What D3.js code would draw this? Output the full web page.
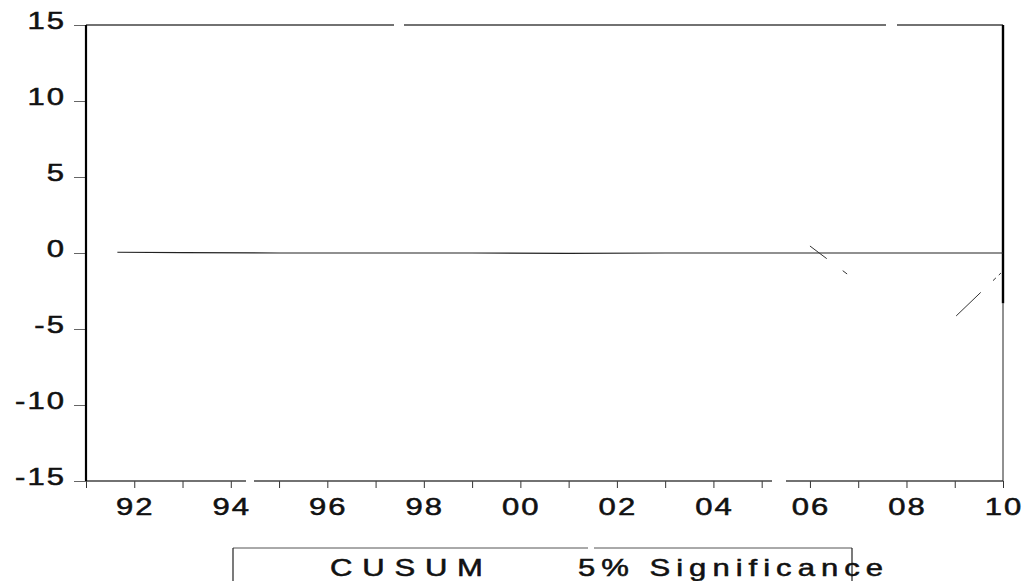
<!DOCTYPE html>
<html>
<head>
<meta charset="utf-8">
<script src="https://cdn.jsdelivr.net/npm/d3@7"></script>
<style>
  body { margin: 0; background: #fff; }
  text { font-family: "Liberation Sans", Arial, sans-serif; fill: #111; stroke: #111; stroke-width: 0.5px; }
</style>
</head>
<body>
<div id="chart"></div>
<script>
// values
var cusumYears  = [1991.65, 1993, 1995, 1997, 1999, 2001, 2003, 2005, 2007, 2009, 2010];
var cusumValues = [0.05,    0.03, 0.0,  0.0,  0.0, -0.02, 0.0,  0.0,  0.0,  0.0,  0.0];

// faint broken pieces of the lower line (what survived the scan)
var dropYearsA  = [2006.0, 2006.77];
var dropValuesA = [0.46, -1.38];
var dropYearsB  = [2009.03, 2009.96];
var dropValuesB = [-4.14, -1.31];

var yTicks      = [15, 10, 5, 0, -5, -10, -15];
var xMinorTicks = [1991, 1992, 1993, 1994, 1995, 1996, 1997, 1998, 1999, 2000,
                   2001, 2002, 2003, 2004, 2005, 2006, 2007, 2008, 2009, 2010];
var xLabelYears = [1992, 1994, 1996, 1998, 2000, 2002, 2004, 2006, 2008, 2010];
var xLabels     = ["92", "94", "96", "98", "00", "02", "04", "06", "08", "10"];
var legendItems = ["CUSUM", "5% Significance"];

var width = 1029, height = 581;
var plotLeft = 86, plotRight = 1003, plotTop = 25, plotBottom = 481;

var svg = d3.select("#chart").append("svg")
    .attr("width", width)
    .attr("height", height);

var x = d3.scaleLinear().domain([1991, 2010]).range([plotLeft, plotRight]);
var y = d3.scaleLinear().domain([-15, 15]).range([plotBottom, plotTop]);

// y ticks (outward, to the left)
var yAxis = svg.append("g")
    .attr("transform", "translate(" + plotLeft + ",0)")
    .call(d3.axisLeft(y).tickValues(yTicks).tickSize(12).tickFormat(""));
yAxis.select(".domain").remove();
yAxis.selectAll("line").attr("stroke", "#666").attr("stroke-width", 1);

// x ticks every year (downward)
var xAxis = svg.append("g")
    .attr("transform", "translate(0," + plotBottom + ")")
    .call(d3.axisBottom(x).tickValues(xMinorTicks).tickSize(7).tickFormat(""));
xAxis.select(".domain").remove();
xAxis.selectAll("line").attr("stroke", "#333").attr("stroke-width", 1);

// frame: top and bottom are faint broken lines in the scan
svg.append("line")
    .attr("x1", plotLeft).attr("x2", plotRight).attr("y1", y(15)).attr("y2", y(15))
    .attr("stroke", "#444").attr("stroke-width", 1.3)
    .attr("stroke-dasharray", "308,10,482,11,200");
svg.append("line")
    .attr("x1", plotLeft).attr("x2", plotRight).attr("y1", y(-15)).attr("y2", y(-15))
    .attr("stroke", "#444").attr("stroke-width", 1.3)
    .attr("stroke-dasharray", "160,8,518,14,300");
// left axis line (heavy)
svg.append("line")
    .attr("x1", plotLeft).attr("x2", plotLeft).attr("y1", y(15)).attr("y2", y(-15))
    .attr("stroke", "#000").attr("stroke-width", 2.2);
// right border: heavy upper part, thin lower part
svg.append("line")
    .attr("x1", plotRight).attr("x2", plotRight).attr("y1", y(15)).attr("y2", y(-3.3))
    .attr("stroke", "#000").attr("stroke-width", 2.4);
svg.append("line")
    .attr("x1", plotRight).attr("x2", plotRight).attr("y1", y(-3.3)).attr("y2", y(-15))
    .attr("stroke", "#222").attr("stroke-width", 1);

// y labels, wide-looking digits like the scan
svg.selectAll(".ylab")
    .data(yTicks)
    .enter().append("text")
    .attr("class", "ylab")
    .attr("transform", function(d) { return "translate(66," + (y(d) + 4) + ") scale(1.35,1)"; })
    .attr("text-anchor", "end")
    .attr("font-size", "23px")
    .attr("letter-spacing", "1.5px")
    .text(function(d) { return d; });

// x labels
svg.selectAll(".xlab")
    .data(xLabelYears)
    .enter().append("text")
    .attr("class", "xlab")
    .attr("transform", function(d) { return "translate(" + (x(d) + 1) + ",515) scale(1.35,1)"; })
    .attr("text-anchor", "middle")
    .attr("font-size", "23px")
    .attr("letter-spacing", "1.5px")
    .text(function(d, i) { return xLabels[i]; });

var line = d3.line()
    .x(function(d) { return x(d[0]); })
    .y(function(d) { return y(d[1]); });

// CUSUM line (sits at zero)
svg.append("path")
    .datum(d3.zip(cusumYears, cusumValues))
    .attr("d", line)
    .attr("fill", "none")
    .attr("stroke", "#222")
    .attr("stroke-width", 1.2);

// broken diagonal fragments
svg.append("path")
    .datum(d3.zip(dropYearsA, dropValuesA))
    .attr("d", line)
    .attr("fill", "none")
    .attr("stroke", "#333")
    .attr("stroke-width", 1)
    .attr("stroke-dasharray", "21,20,6");
svg.append("path")
    .datum(d3.zip(dropYearsB, dropValuesB))
    .attr("d", line)
    .attr("fill", "none")
    .attr("stroke", "#333")
    .attr("stroke-width", 1)
    .attr("stroke-dasharray", "34,17,4,4,3");

// legend box (cut off by the bottom of the image)
var legend = svg.append("g");
legend.append("line")
    .attr("x1", 233).attr("x2", 852).attr("y1", 548).attr("y2", 548)
    .attr("stroke", "#555").attr("stroke-width", 1)
    .attr("stroke-dasharray", "355,6,360");
legend.append("line")
    .attr("x1", 233).attr("x2", 233).attr("y1", 548).attr("y2", 581)
    .attr("stroke", "#222").attr("stroke-width", 1.2);
legend.append("line")
    .attr("x1", 852).attr("x2", 852).attr("y1", 548).attr("y2", 581)
    .attr("stroke", "#222").attr("stroke-width", 1.2);

var legendX = [330, 578];
var legendW = [153, 305];
legend.selectAll("text")
    .data(legendItems)
    .enter().append("text")
    .attr("transform", function(d, i) { return "translate(" + legendX[i] + ",576) scale(1.35,1)"; })
    .attr("font-size", "23px")
    .attr("textLength", function(d, i) { return legendW[i] / 1.35; })
    .attr("lengthAdjust", "spacing")
    .text(function(d) { return d; });
</script>
</body>
</html>
